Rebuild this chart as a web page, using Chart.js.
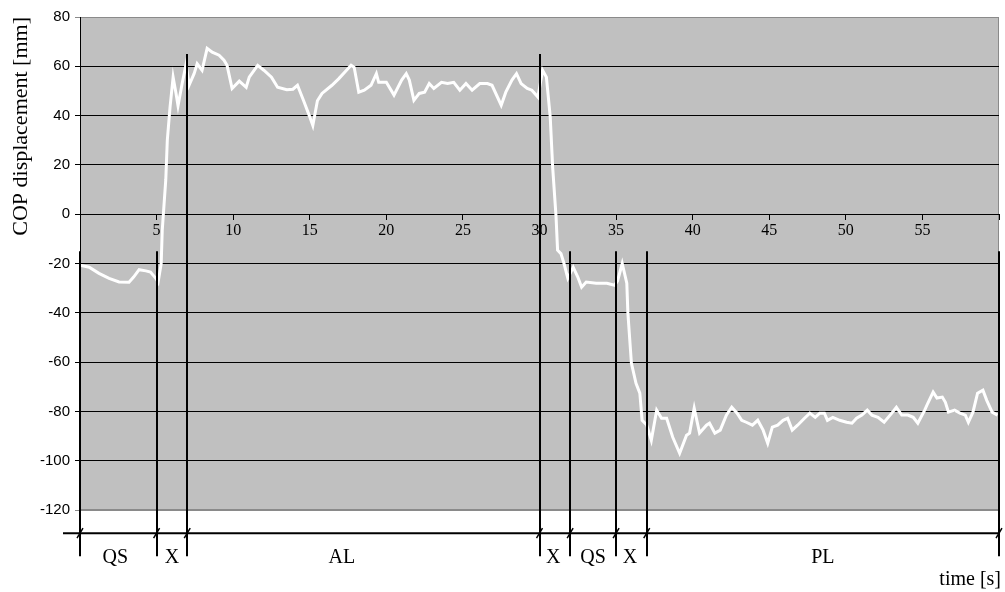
<!DOCTYPE html>
<html>
<head>
<meta charset="utf-8">
<title>COP displacement</title>
<script src="https://cdn.jsdelivr.net/npm/chart.js@4/dist/chart.umd.min.js"></script>
<style>
  body { margin: 0; background: #fff; }
  #wrap { width: 1005px; height: 592px; }
</style>
</head>
<body>
<div id="wrap"><canvas id="copChart" width="1005" height="592"></canvas></div>
<script>
// time samples [s] and COP displacement [mm]
const times = [
  0.0, 0.6, 1.24, 1.9, 2.55, 3.2, 3.5, 3.86, 4.3, 4.6, 4.95, 5.1,
  5.3, 5.37, 5.6, 5.7, 5.88, 6.08, 6.27, 6.4, 6.67, 6.93, 7.12, 7.45,
  7.65, 7.97, 8.3, 8.63, 9.08, 9.4, 9.6, 9.93, 10.4, 10.85, 11.05, 11.6,
  12.0, 12.5, 12.9, 13.5, 13.9, 14.2, 14.6, 14.97, 15.2, 15.5, 15.8, 16.45,
  16.9, 17.4, 17.7, 17.9, 18.2, 18.56, 19.0, 19.35, 19.5, 20.0, 20.5, 21.0,
  21.3, 21.5, 21.8, 22.15, 22.5, 22.8, 23.1, 23.6, 24.0, 24.4, 24.8, 25.2,
  25.6, 26.1, 26.6, 26.9, 27.5, 27.8, 28.2, 28.5, 28.8, 29.2, 29.5, 29.9,
  30.2, 30.45, 30.7, 30.86, 31.08, 31.18, 31.4, 31.6, 31.85, 32.2, 32.5, 32.75,
  33.05, 33.7, 34.4, 34.9, 35.1, 35.4, 35.7, 35.77, 36.0, 36.3, 36.55, 36.7,
  37.0, 37.3, 37.65, 37.97, 38.3, 38.7, 39.15, 39.6, 39.8, 40.1, 40.45, 40.9,
  41.1, 41.45, 41.8, 42.2, 42.55, 42.9, 43.2, 43.5, 43.9, 44.25, 44.6, 44.9,
  45.2, 45.55, 45.9, 46.2, 46.5, 46.85, 47.3, 47.65, 48.0, 48.3, 48.6, 48.8,
  49.15, 49.6, 50.05, 50.4, 50.7, 51.05, 51.4, 51.7, 52.1, 52.5, 53.0, 53.3,
  53.65, 54.05, 54.4, 54.7, 55.15, 55.35, 55.7, 55.95, 56.3, 56.5, 56.7, 57.1,
  57.45, 57.8, 58.0, 58.3, 58.6, 58.95, 59.2, 59.55, 59.9
];
const copValues = [
  -20.7, -21.5, -24, -26, -27.5, -27.6, -25.5, -22.5, -23, -23.5, -26, -27.6,
  -20, -6.5, 14, 30, 43.5, 55.6, 49, 44, 53, 61, 52.3, 57,
  61, 58.4, 67.3, 65.7, 64.5, 62.5, 60.4, 51, 54, 51.5, 55.6, 60.4,
  58.4, 55.6, 51.5, 50.5, 50.7, 52.3, 46, 40, 36, 46, 49, 52.3,
  55, 58.4, 60.4, 59.6, 49.5, 50.3, 52.3, 57, 53.5, 53.5, 48.3, 54.4,
  57, 54.4, 46.2, 49, 49.5, 53, 51, 53.5, 53, 53.5, 50.3, 53,
  50.3, 53, 53, 52.3, 44.2, 49.5, 54.4, 57, 53, 51, 50.3, 47.5,
  58.4, 55.6, 39.5, 19, -1, -14.6, -16, -20, -26, -21.5, -25.5, -29.6,
  -27.5, -28, -28, -28.8, -27, -20, -28, -40, -60.4, -68.6, -72.6, -83.6,
  -85.5, -91.7, -79.5, -82.8, -82.8, -90.5, -97, -89.7, -88.8, -78.7, -88.8, -85.6,
  -84.8, -88.8, -87.6, -81.5, -78.3, -80.7, -83.6, -84.4, -85.6, -83.6, -87.6, -92.9,
  -86.4, -85.6, -83.6, -82.8, -87.6, -85.6, -82.8, -80.7, -82.4, -80.7, -80.7, -83.6,
  -82.4, -83.6, -84.4, -84.8, -82.8, -81.5, -79.5, -81.5, -82.4, -84.4, -80.7, -78.3,
  -81.5, -81.5, -82.4, -84.8, -79.5, -76.7, -72.2, -74.6, -74.2, -76.3, -80.3, -79.5,
  -80.7, -81.5, -84.4, -80.3, -72.6, -71.4, -75.5, -80.3, -81.5
];

// phase boundaries [s] and phase names
const boundaries = [0, 5, 7, 30, 32, 35, 37, 60];
const boundaryTops = [-15, -15, 65, 65, -15, -15, -15, -15]; // mm, where each marker line starts
const phaseLabels = ['QS', 'X', 'AL', 'X', 'QS', 'X', 'PL'];
const phaseLabelTimes = [2.3, 6, 17.1, 30.9, 33.5, 35.9, 48.5];

const yTicks = [80, 60, 40, 20, 0, -20, -40, -60, -80, -100, -120];

const points = times.map((t, i) => ({ x: t, y: copValues[i] }));

const plotBackground = {
  id: 'plotBackground',
  beforeDraw(chart) {
    const { ctx, chartArea: a } = chart;
    ctx.save();
    ctx.fillStyle = '#c0c0c0';
    ctx.fillRect(a.left, a.top, a.right - a.left, a.bottom - a.top);
    ctx.strokeStyle = '#8a8a8a';
    ctx.lineWidth = 1;
    ctx.strokeRect(a.left + 0.5, a.top + 0.5, a.right - a.left - 1, a.bottom - a.top - 1);
    ctx.restore();
  }
};

const phaseMarkers = {
  id: 'phaseMarkers',
  afterDraw(chart) {
    const { ctx } = chart;
    const xs = chart.scales.x;
    const ys = chart.scales.y;
    const lineY = ys.getPixelForValue(-129.4);
    const bottomY = ys.getPixelForValue(-138.8);
    ctx.save();
    ctx.strokeStyle = '#000';
    ctx.lineWidth = 2;

    // vertical phase boundaries
    boundaries.forEach((t, i) => {
      const px = Math.round(xs.getPixelForValue(t));
      ctx.beginPath();
      ctx.moveTo(px, ys.getPixelForValue(boundaryTops[i]));
      ctx.lineTo(px, bottomY);
      ctx.stroke();
    });

    // horizontal line of the phase row
    ctx.beginPath();
    ctx.moveTo(63, lineY);
    ctx.lineTo(xs.getPixelForValue(60) + 1, lineY);
    ctx.stroke();

    // little slashes where boundaries cross it
    ctx.lineWidth = 1.5;
    boundaries.forEach(t => {
      const px = xs.getPixelForValue(t);
      ctx.beginPath();
      ctx.moveTo(px - 3, lineY + 5);
      ctx.lineTo(px + 3, lineY - 5);
      ctx.stroke();
    });

    ctx.fillStyle = '#000';
    ctx.font = '20px "Liberation Serif"';
    ctx.textAlign = 'center';
    ctx.textBaseline = 'alphabetic';
    phaseLabels.forEach((lab, i) => {
      ctx.fillText(lab, xs.getPixelForValue(phaseLabelTimes[i]), 563);
    });

    ctx.textAlign = 'right';
    ctx.fillText('time [s]', 1001, 585);
    ctx.restore();
  }
};

const ctx = document.getElementById('copChart').getContext('2d');
const copChart = new Chart(ctx, {
  type: 'line',
  data: {
    datasets: [{
      label: 'COP',
      data: points,
      borderColor: '#ffffff',
      borderWidth: 3,
      pointRadius: 0,
      tension: 0,
      fill: false
    }]
  },
  options: {
    responsive: false,
    animation: false,
    layout: { padding: { top: 17, bottom: 82, left: 0, right: 6 } },
    plugins: {
      legend: { display: false },
      tooltip: { enabled: false }
    },
    scales: {
      x: {
        type: 'linear',
        position: { y: 0 },
        min: 0,
        max: 60,
        ticks: {
          stepSize: 5,
          padding: 2,
          color: '#000',
          font: { family: 'Liberation Serif', size: 16 },
          maxRotation: 0,
          callback: v => (v === 0 || v === 60) ? '' : v
        },
        grid: { drawOnChartArea: false, color: '#000', tickLength: 5 },
        border: { display: true, color: '#000' }
      },
      y: {
        type: 'linear',
        min: -120,
        max: 80,
        afterFit(scale) { scale.width = 80; },
        afterBuildTicks(scale) { scale.ticks = yTicks.map(v => ({ value: v })); },
        ticks: {
          padding: 5,
          color: '#000',
          font: { family: 'Liberation Sans', size: 15 }
        },
        grid: {
          color: c => (c.tick && (c.tick.value === 80 || c.tick.value === -120)) ? '#8a8a8a' : '#000',
          tickLength: 5
        },
        border: { display: true, color: '#000' },
        title: {
          display: true,
          text: 'COP displacement [mm]',
          align: 'end',
          color: '#000',
          font: { family: 'Liberation Serif', size: 22 },
          padding: { top: 8, bottom: 0 }
        }
      }
    }
  },
  plugins: [plotBackground, phaseMarkers]
});
</script>
</body>
</html>
